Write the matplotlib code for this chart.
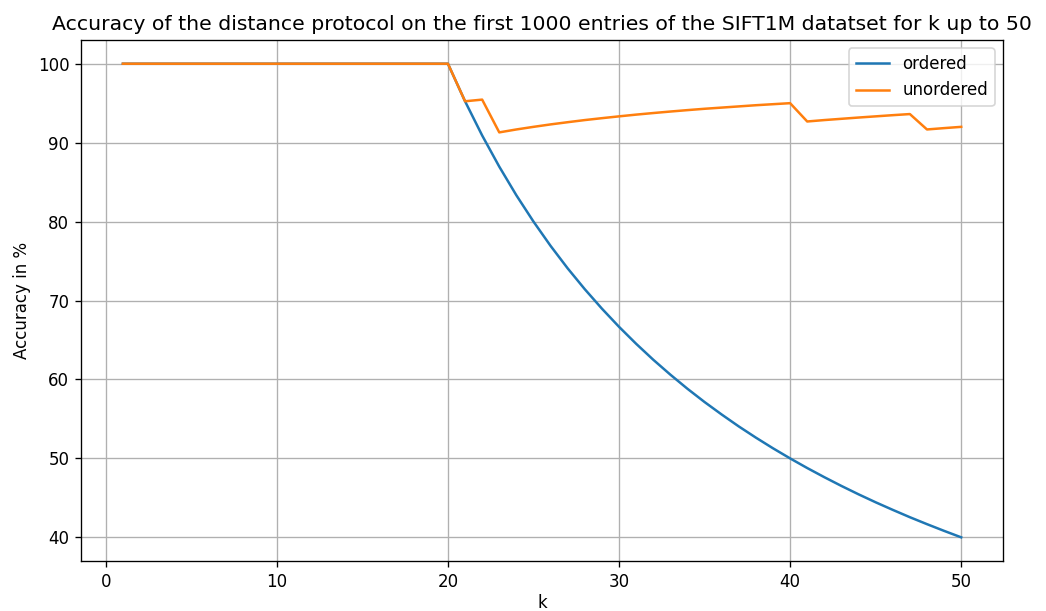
import matplotlib
matplotlib.use("Agg")
import matplotlib.pyplot as plt

# k values and accuracies
ks = list(range(1, 51))

ordered = [100.0] * 20 + [
    95.24, 90.91, 86.96, 83.33, 80.00, 76.92, 74.07, 71.43, 68.97, 66.67,
    64.52, 62.50, 60.61, 58.82, 57.14, 55.56, 54.05, 52.63, 51.28, 50.00,
    48.78, 47.62, 46.51, 45.45, 44.44, 43.48, 42.55, 41.67, 40.82, 40.00,
]

unordered = [100.0] * 20 + [
    95.24, 95.45, 91.30, 91.67, 92.00, 92.31, 92.59, 92.86, 93.10, 93.33,
    93.55, 93.75, 93.94, 94.12, 94.29, 94.44, 94.59, 94.74, 94.87, 95.00,
    92.68, 92.86, 93.02, 93.18, 93.33, 93.48, 93.62, 91.67, 91.84, 92.00,
]

dpi = 120
fig, ax = plt.subplots(figsize=(1046 / dpi, 611 / dpi), dpi=dpi)
ax.plot(ks, ordered, label="ordered")
ax.plot(ks, unordered, label="unordered")
ax.set_title("Accuracy of the distance protocol on the first 1000 entries of the SIFT1M datatset for k up to 50",
             fontsize=12.25)
ax.set_xlabel("k", labelpad=2)
ax.set_ylabel("Accuracy in %")
ax.grid(True)
ax.legend(loc="upper right")
fig.subplots_adjust(left=0.0774, right=0.959, top=0.9345, bottom=0.0818)
fig.savefig("out.png", dpi=dpi)
